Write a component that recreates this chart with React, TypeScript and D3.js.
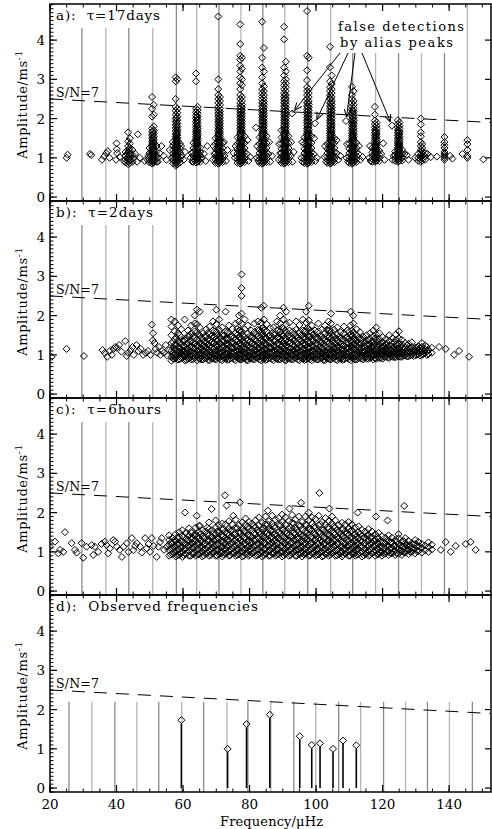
import React from "react";
import * as d3 from "d3";

// ------------------------- data -------------------------
const xTickValues = [20, 40, 60, 80, 100, 120, 140];
const yTickValues = [0, 1, 2, 3, 4];
const panelLabels = ["a):  τ=17days", "b):  τ=2days", "c):  τ=6hours", "d):  Observed frequencies"];

// mode frequencies (vertical reference lines)
const modeFreqsABC = [29.6, 36.8, 43.7, 50.9, 58.0, 64.1, 70.8, 77.4, 84.0, 90.6, 97.5, 104.4, 111.0, 117.9, 124.8, 131.7, 138.6, 145.5];
const modeFreqsD = [25.7, 32.6, 39.5, 46.1, 52.7, 59.6, 66.2, 73.2, 79.5, 86.4, 93.3, 99.9, 106.8, 113.4, 120.3, 126.9, 133.5, 140.1, 147.0];
const modeLineTopD = 2.2;

// S/N = 7 threshold
const snFreq = [20, 152.6];
const snAmp = [2.5, 1.9];

// observed frequencies (panel d)
const obsFreq = [59.5, 73.4, 79.1, 86.1, 95.1, 98.7, 101.2, 105.1, 108.1, 112.1];
const obsAmp = [1.73, 1.0, 1.63, 1.87, 1.32, 1.1, 1.14, 1.0, 1.21, 1.09];

// panel a: stacked detections
const colFreqA = [43.5, 44.0, 50.7, 51.2, 57.8, 58.3, 63.9, 64.4, 70.6, 71.1, 77.2, 77.7, 83.8, 84.3, 90.4, 90.9, 97.3, 97.8, 104.2, 104.7, 110.8, 111.3, 117.7, 118.2, 124.6, 125.1, 131.5, 131.9, 138.6, 145.5];
const colAmpsA = [
  [0.84, 0.9, 0.96, 1.02, 1.08, 1.14, 1.2, 1.3, 1.42, 1.65],
  [0.87, 0.93, 0.99, 1.05, 1.11, 1.18, 1.25, 1.36, 1.5],
  [0.85, 0.9, 0.95, 1.0, 1.05, 1.1, 1.16, 1.22, 1.28, 1.35, 1.42, 1.5, 1.58, 1.66, 1.75, 2.05, 2.25, 2.55],
  [0.88, 0.93, 0.98, 1.03, 1.08, 1.13, 1.19, 1.25, 1.32, 1.39, 1.46, 1.54, 1.62, 1.7, 1.8, 2.1, 2.35],
  [0.8, 0.86, 0.92, 0.98, 1.04, 1.1, 1.16, 1.22, 1.28, 1.34, 1.4, 1.47, 1.54, 1.61, 1.68, 1.76, 1.84, 1.92, 2.0, 2.1, 2.2, 2.3, 2.5, 2.95, 3.05],
  [0.83, 0.89, 0.95, 1.01, 1.07, 1.13, 1.19, 1.25, 1.31, 1.37, 1.44, 1.51, 1.58, 1.65, 1.72, 1.8, 1.88, 1.96, 2.05, 2.15, 2.25, 3.0],
  [0.88, 0.94, 1.0, 1.06, 1.12, 1.18, 1.24, 1.3, 1.36, 1.42, 1.48, 1.54, 1.6, 1.66, 1.72, 1.78, 1.85, 1.92, 2.0, 2.08, 2.16, 2.25, 2.95, 3.15],
  [0.9, 0.96, 1.02, 1.08, 1.14, 1.2, 1.26, 1.32, 1.38, 1.44, 1.5, 1.56, 1.62, 1.68, 1.75, 1.82, 1.9, 1.98, 2.06, 2.14, 2.22, 2.3],
  [0.85, 0.91, 0.97, 1.03, 1.09, 1.15, 1.21, 1.27, 1.33, 1.39, 1.45, 1.51, 1.57, 1.63, 1.7, 1.77, 1.84, 1.91, 1.98, 2.06, 2.14, 2.22, 2.3, 2.4, 2.5, 2.6, 2.75, 3.0, 4.6],
  [0.88, 0.94, 1.0, 1.06, 1.12, 1.18, 1.24, 1.3, 1.36, 1.42, 1.48, 1.54, 1.6, 1.66, 1.73, 1.8, 1.87, 1.94, 2.02, 2.1, 2.18, 2.26, 2.35, 2.45, 2.55],
  [0.85, 0.91, 0.97, 1.03, 1.09, 1.15, 1.21, 1.27, 1.33, 1.39, 1.45, 1.51, 1.57, 1.63, 1.69, 1.75, 1.82, 1.89, 1.96, 2.03, 2.1, 2.17, 2.24, 2.32, 2.4, 2.5, 2.6, 2.75, 2.9, 3.05, 3.2, 3.35, 3.5, 3.6, 3.9, 4.4],
  [0.88, 0.94, 1.0, 1.06, 1.12, 1.18, 1.24, 1.3, 1.36, 1.42, 1.48, 1.54, 1.6, 1.66, 1.72, 1.79, 1.86, 1.93, 2.0, 2.07, 2.14, 2.21, 2.28, 2.36, 2.45, 2.55, 2.85, 3.0, 3.27, 3.55],
  [0.85, 0.91, 0.97, 1.03, 1.09, 1.15, 1.21, 1.27, 1.33, 1.39, 1.45, 1.51, 1.57, 1.63, 1.69, 1.75, 1.82, 1.89, 1.96, 2.03, 2.1, 2.17, 2.24, 2.32, 2.4, 2.48, 2.56, 2.65, 2.75, 2.9, 3.05, 3.3, 3.55, 4.47],
  [0.88, 0.94, 1.0, 1.06, 1.12, 1.18, 1.24, 1.3, 1.36, 1.42, 1.48, 1.54, 1.6, 1.66, 1.72, 1.79, 1.86, 1.93, 2.0, 2.07, 2.14, 2.21, 2.28, 2.36, 2.44, 2.52, 2.6, 2.7, 2.82, 3.2, 3.8],
  [0.85, 0.91, 0.97, 1.03, 1.09, 1.15, 1.21, 1.27, 1.33, 1.39, 1.45, 1.51, 1.57, 1.63, 1.69, 1.75, 1.82, 1.89, 1.96, 2.03, 2.1, 2.17, 2.24, 2.32, 2.4, 2.48, 2.56, 2.65, 2.75, 2.85, 2.95, 3.1, 3.3, 4.02, 4.34],
  [0.88, 0.94, 1.0, 1.06, 1.12, 1.18, 1.24, 1.3, 1.36, 1.42, 1.48, 1.54, 1.6, 1.66, 1.72, 1.79, 1.86, 1.93, 2.0, 2.07, 2.14, 2.21, 2.28, 2.36, 2.44, 2.52, 2.6, 2.7, 2.8, 2.9, 3.0, 3.2, 3.45],
  [0.85, 0.91, 0.97, 1.03, 1.09, 1.15, 1.21, 1.27, 1.33, 1.39, 1.45, 1.51, 1.57, 1.63, 1.69, 1.75, 1.82, 1.89, 1.96, 2.03, 2.1, 2.17, 2.24, 2.32, 2.4, 2.5, 2.6, 2.7, 2.8, 2.98, 3.23, 3.6, 4.74],
  [0.88, 0.94, 1.0, 1.06, 1.12, 1.18, 1.24, 1.3, 1.36, 1.42, 1.48, 1.54, 1.6, 1.66, 1.72, 1.79, 1.86, 1.93, 2.0, 2.07, 2.14, 2.21, 2.28, 2.36, 2.45, 2.55, 2.65, 2.75, 3.55],
  [0.85, 0.91, 0.97, 1.03, 1.09, 1.15, 1.21, 1.27, 1.33, 1.39, 1.45, 1.51, 1.57, 1.63, 1.69, 1.75, 1.82, 1.89, 1.96, 2.03, 2.1, 2.17, 2.24, 2.32, 2.4, 2.5, 2.6, 2.7, 2.8, 2.95, 3.31, 3.83],
  [0.88, 0.94, 1.0, 1.06, 1.12, 1.18, 1.24, 1.3, 1.36, 1.42, 1.48, 1.54, 1.6, 1.66, 1.72, 1.79, 1.86, 1.93, 2.0, 2.07, 2.14, 2.21, 2.28, 2.36, 2.45, 2.55, 2.65, 2.75, 2.88, 3.1],
  [0.85, 0.91, 0.97, 1.03, 1.09, 1.15, 1.21, 1.27, 1.33, 1.39, 1.45, 1.51, 1.57, 1.63, 1.7, 1.77, 1.84, 1.91, 1.98, 2.06, 2.14, 2.22, 2.3, 2.4, 2.5, 2.6, 2.81],
  [0.88, 0.94, 1.0, 1.06, 1.12, 1.18, 1.24, 1.3, 1.36, 1.42, 1.48, 1.54, 1.6, 1.67, 1.74, 1.81, 1.88, 1.95, 2.02, 2.1, 2.18, 2.26, 2.35, 2.45, 2.7],
  [0.9, 0.96, 1.02, 1.08, 1.14, 1.2, 1.26, 1.32, 1.38, 1.44, 1.5, 1.57, 1.64, 1.71, 1.78, 1.86, 1.95, 2.1, 2.3],
  [0.93, 0.99, 1.05, 1.11, 1.17, 1.23, 1.29, 1.35, 1.41, 1.47, 1.54, 1.61, 1.68, 1.75, 1.82, 1.9],
  [0.9, 0.96, 1.02, 1.08, 1.14, 1.2, 1.26, 1.32, 1.38, 1.44, 1.5, 1.57, 1.64, 1.71, 1.78, 1.86, 1.96],
  [0.93, 0.99, 1.05, 1.11, 1.17, 1.23, 1.29, 1.35, 1.41, 1.47, 1.54, 1.61, 1.68, 1.75, 1.82, 1.9],
  [0.9, 0.96, 1.02, 1.08, 1.14, 1.2, 1.3, 1.4, 1.55, 1.65, 1.85, 2.0],
  [0.93, 0.99, 1.05, 1.11, 1.17, 1.25, 1.35],
  [0.95, 1.0, 1.05, 1.1, 1.15, 1.25, 1.32, 1.4, 1.53],
  [1.0, 1.05, 1.2, 1.35, 1.45],
];
// panel a: stack cores and bases
const colFreqA2 = [42.7, 44.8, 49.9, 52.0, 50.95, 57.0, 59.1, 58.05, 63.1, 65.2, 64.15, 69.8, 71.9, 70.85, 76.4, 78.5, 77.45, 83.0, 85.1, 84.05, 89.6, 91.7, 90.65, 96.5, 98.6, 97.55, 103.4, 105.5, 104.45, 110.0, 112.1, 111.05, 116.9, 119.0, 117.95, 123.8, 125.9, 124.85, 130.7, 132.8];
const colAmpsA2 = [
  [0.88, 0.96, 1.05, 1.15],
  [0.9, 0.98, 1.08, 1.2],
  [0.88, 0.95, 1.03, 1.12, 1.25],
  [0.9, 0.98, 1.06, 1.16, 1.3],
  [0.88, 0.93, 0.98, 1.03, 1.08, 1.13, 1.18, 1.23, 1.28, 1.33, 1.38, 1.43, 1.48, 1.53, 1.6, 1.68],
  [0.86, 0.94, 1.02, 1.1, 1.2, 1.32],
  [0.88, 0.96, 1.04, 1.13, 1.24, 1.36],
  [0.83, 0.88, 0.93, 0.98, 1.03, 1.08, 1.13, 1.18, 1.23, 1.28, 1.33, 1.38, 1.43, 1.48, 1.53, 1.58, 1.63, 1.7, 1.78, 1.86, 1.94, 2.02],
  [0.9, 0.97, 1.05, 1.14, 1.25, 1.38],
  [0.9, 0.98, 1.06, 1.15, 1.26],
  [0.91, 0.96, 1.01, 1.06, 1.11, 1.16, 1.21, 1.26, 1.31, 1.36, 1.41, 1.46, 1.51, 1.56, 1.61, 1.67, 1.74, 1.81, 1.88, 1.95, 2.03],
  [0.87, 0.95, 1.03, 1.12, 1.23, 1.36, 1.5],
  [0.89, 0.97, 1.05, 1.14, 1.25, 1.38],
  [0.87, 0.92, 0.97, 1.02, 1.07, 1.12, 1.17, 1.22, 1.27, 1.32, 1.37, 1.42, 1.47, 1.52, 1.57, 1.62, 1.68, 1.75, 1.82, 1.89, 1.96, 2.04, 2.12, 2.2],
  [0.87, 0.95, 1.03, 1.12, 1.23, 1.36, 1.52],
  [0.89, 0.97, 1.05, 1.14, 1.25, 1.38, 1.55],
  [0.87, 0.92, 0.97, 1.02, 1.07, 1.12, 1.17, 1.22, 1.27, 1.32, 1.37, 1.42, 1.47, 1.52, 1.57, 1.62, 1.68, 1.75, 1.82, 1.89, 1.96, 2.04, 2.12, 2.2, 2.3],
  [0.87, 0.95, 1.03, 1.12, 1.23, 1.36, 1.52],
  [0.89, 0.97, 1.05, 1.14, 1.25, 1.38, 1.55],
  [0.87, 0.92, 0.97, 1.02, 1.07, 1.12, 1.17, 1.22, 1.27, 1.32, 1.37, 1.42, 1.47, 1.52, 1.57, 1.62, 1.68, 1.75, 1.82, 1.89, 1.96, 2.04, 2.12, 2.2, 2.3, 2.4],
  [0.87, 0.95, 1.03, 1.12, 1.23, 1.36, 1.52, 1.7],
  [0.89, 0.97, 1.05, 1.14, 1.25, 1.38, 1.55],
  [0.87, 0.92, 0.97, 1.02, 1.07, 1.12, 1.17, 1.22, 1.27, 1.32, 1.37, 1.42, 1.47, 1.52, 1.57, 1.62, 1.68, 1.75, 1.82, 1.89, 1.96, 2.04, 2.12, 2.2, 2.3, 2.4, 2.5, 2.6],
  [0.87, 0.95, 1.03, 1.12, 1.23, 1.36, 1.52],
  [0.89, 0.97, 1.05, 1.14, 1.25, 1.38, 1.55],
  [0.87, 0.92, 0.97, 1.02, 1.07, 1.12, 1.17, 1.22, 1.27, 1.32, 1.37, 1.42, 1.47, 1.52, 1.57, 1.62, 1.68, 1.75, 1.82, 1.89, 1.96, 2.04, 2.12, 2.2, 2.3, 2.4],
  [0.87, 0.95, 1.03, 1.12, 1.23, 1.36],
  [0.89, 0.97, 1.05, 1.14, 1.25, 1.38, 1.5],
  [0.87, 0.92, 0.97, 1.02, 1.07, 1.12, 1.17, 1.22, 1.27, 1.32, 1.37, 1.42, 1.47, 1.52, 1.57, 1.62, 1.68, 1.75, 1.82, 1.89, 1.96, 2.04, 2.12, 2.2, 2.3, 2.4, 2.5],
  [0.87, 0.95, 1.03, 1.12, 1.23, 1.36],
  [0.89, 0.97, 1.05, 1.14, 1.25, 1.38],
  [0.87, 0.92, 0.97, 1.02, 1.07, 1.12, 1.17, 1.22, 1.27, 1.32, 1.37, 1.42, 1.47, 1.52, 1.57, 1.62, 1.68, 1.75, 1.82, 1.89, 1.96, 2.04, 2.12, 2.2],
  [0.9, 0.97, 1.05, 1.14, 1.25],
  [0.92, 1.0, 1.08, 1.18],
  [0.92, 0.97, 1.02, 1.07, 1.12, 1.17, 1.22, 1.27, 1.32, 1.37, 1.42, 1.47, 1.52, 1.58, 1.64, 1.7],
  [0.92, 0.99, 1.07, 1.16],
  [0.93, 1.01, 1.1, 1.2],
  [0.92, 0.97, 1.02, 1.07, 1.12, 1.17, 1.22, 1.27, 1.32, 1.37, 1.42, 1.47, 1.52, 1.58, 1.64, 1.7],
  [0.92, 1.0, 1.1],
  [0.95, 1.03, 1.12],
];
const scatterA: [number, number][] = [
  [25.0, 1.0], [25.3, 1.08], [32.0, 1.1], [32.4, 1.07],
  [35.6, 0.95], [36.3, 1.04], [36.9, 1.12], [37.4, 1.17], [37.9, 1.0],
  [40.0, 1.37], [40.1, 1.22], [40.2, 1.12], [39.9, 0.95], [41.0, 1.02],
  [42.3, 0.92], [42.6, 1.05], [45.2, 1.0], [45.6, 1.1], [46.4, 1.6], [47.0, 1.0], [46.2, 0.9], [48.5, 0.92], [49.3, 0.95],
  [49.6, 1.05], [52.5, 1.0], [53.0, 1.12], [53.5, 1.3], [54.2, 1.05], [55.0, 0.95], [56.0, 1.2], [52.4, 0.9],
  [56.5, 1.0], [59.6, 1.05], [60.2, 0.95], [60.6, 1.15], [59.4, 1.3], [56.9, 1.4],
  [62.3, 1.0], [62.6, 1.12], [65.7, 1.0], [66.3, 1.1], [66.8, 0.92], [67.3, 1.3], [62.8, 0.9],
  [69.0, 0.95], [69.4, 1.1], [72.5, 1.05], [72.9, 0.92], [73.4, 1.2], [69.2, 1.3], [72.3, 1.4],
  [75.6, 1.0], [75.2, 1.12], [79.2, 1.1], [79.7, 0.92], [80.2, 1.02], [75.8, 1.3], [79.4, 1.45], [81.9, 1.77],
  [82.2, 1.0], [82.6, 0.92], [85.7, 1.1], [86.2, 0.9], [86.8, 1.05], [82.3, 1.3], [85.9, 1.4],
  [88.8, 0.95], [89.2, 1.12], [92.4, 1.05], [92.9, 0.9], [93.3, 1.15], [88.9, 1.35], [92.5, 1.4],
  [95.6, 1.0], [95.9, 0.9], [99.3, 1.1], [99.8, 0.92], [100.3, 1.0], [95.8, 1.4], [99.4, 1.5],
  [102.6, 1.02], [103.0, 0.9], [106.2, 1.12], [106.7, 0.95], [107.3, 1.05], [102.7, 1.3], [106.2, 1.45],
  [109.2, 1.0], [109.6, 0.9], [112.8, 1.1], [113.3, 0.95], [114.0, 1.02], [109.3, 1.35], [112.9, 1.3],
  [116.0, 1.0], [116.4, 0.92], [119.6, 1.1], [120.2, 1.37], [120.6, 0.95], [116.2, 1.3],
  [123.0, 0.95], [123.3, 1.05], [126.6, 1.1], [127.3, 1.07], [127.8, 0.95],
  [129.8, 1.0], [133.5, 1.1], [134.5, 1.02], [136.3, 1.03], [140.3, 1.05], [141.0, 0.98], [144.0, 1.1], [150.3, 0.96],
];
// false detections (alias peaks) in panel a
const falseDetFreq = [92.8, 99.7, 109.0, 122.8];
const falseDetAmp = [2.13, 1.88, 1.94, 1.82];

// panel b
const colFreqB = [56.5, 57.5, 58.5, 59.5, 60.5, 61.5, 62.5, 63.5, 64.2, 65.0, 66.0, 67.0, 68.0, 69.0, 70.0, 70.9, 71.8, 72.8, 73.8, 74.8, 75.8, 76.8, 77.6, 78.5, 79.5, 80.5, 81.5, 82.5, 83.5, 84.3, 85.2, 86.2, 87.2, 88.2, 89.2, 90.2, 91.0, 92.0, 93.0, 94.0, 95.0, 96.0, 97.0, 97.8, 98.7, 99.7, 100.7, 101.7, 102.7, 103.7, 104.5, 105.4, 106.4, 107.4, 108.4, 109.4, 110.4, 111.2, 112.2, 113.2, 114.2, 115.2, 116.2, 117.2, 118.1, 119.0, 120.0, 121.0, 122.0, 123.0, 124.0, 124.9, 125.8, 126.8, 127.8, 128.8, 129.8, 130.8, 131.8, 132.8, 133.8, 134.8];
const colAmpsB = [
  [0.85, 0.95, 1.1, 1.3, 1.5, 1.72, 1.9],
  [0.9, 1.0, 1.15, 1.25, 1.4, 1.6, 1.85],
  [0.88, 0.98, 1.08, 1.2, 1.35, 1.55, 1.75],
  [0.92, 1.05, 1.12, 1.28, 1.45, 1.65],
  [0.86, 0.96, 1.1, 1.22, 1.38, 1.9],
  [0.9, 1.02, 1.15, 1.3, 1.48, 1.62],
  [0.88, 1.0, 1.08, 1.2, 1.35, 1.55, 1.75],
  [0.92, 1.04, 1.16, 1.28, 1.42, 1.6, 1.8, 2.0],
  [0.86, 0.98, 1.1, 1.25, 1.4, 1.58, 1.78, 2.15],
  [0.9, 1.02, 1.14, 1.3, 1.5, 1.7, 2.1],
  [0.88, 1.0, 1.12, 1.24, 1.38, 1.55],
  [0.92, 1.05, 1.18, 1.32, 1.48, 1.65],
  [0.86, 0.97, 1.1, 1.22, 1.36, 1.52, 1.72],
  [0.9, 1.02, 1.14, 1.28, 1.44, 1.62, 1.85],
  [0.88, 1.0, 1.1, 1.24, 1.4, 1.58, 1.78, 2.15],
  [0.92, 1.04, 1.16, 1.3, 1.46, 1.64, 1.9],
  [0.86, 0.98, 1.08, 1.2, 1.34, 1.5, 1.7],
  [0.9, 1.02, 1.15, 1.28, 1.42, 1.6, 2.1],
  [0.88, 1.0, 1.12, 1.26, 1.4, 1.56, 1.75],
  [0.92, 1.05, 1.18, 1.32, 1.48, 1.66],
  [0.86, 0.98, 1.1, 1.22, 1.38, 1.55, 1.8],
  [0.9, 1.02, 1.14, 1.28, 1.44, 1.62, 1.85, 2.0],
  [0.88, 1.0, 1.12, 1.26, 1.42, 1.6, 1.8, 2.05, 2.5, 2.7, 3.05],
  [0.92, 1.04, 1.16, 1.3, 1.46, 1.65, 1.9],
  [0.86, 0.98, 1.1, 1.24, 1.38, 1.55, 1.75],
  [0.9, 1.02, 1.15, 1.28, 1.44, 1.62],
  [0.88, 1.0, 1.12, 1.26, 1.4, 1.58, 1.8],
  [0.92, 1.04, 1.16, 1.3, 1.46, 1.64, 1.85],
  [0.86, 0.98, 1.1, 1.24, 1.4, 1.6, 1.82, 2.2],
  [0.9, 1.02, 1.14, 1.28, 1.44, 1.62, 1.9, 2.25],
  [0.88, 1.0, 1.12, 1.26, 1.42, 1.6, 1.78],
  [0.92, 1.05, 1.18, 1.32, 1.5, 1.68],
  [0.86, 0.98, 1.1, 1.22, 1.36, 1.52, 1.7],
  [0.9, 1.02, 1.14, 1.28, 1.44, 1.62, 1.85],
  [0.88, 1.0, 1.12, 1.26, 1.42, 1.6, 1.8, 2.0],
  [0.92, 1.04, 1.16, 1.3, 1.48, 1.66, 1.9, 2.2],
  [0.86, 0.98, 1.1, 1.24, 1.4, 1.58, 1.78, 2.1],
  [0.9, 1.02, 1.15, 1.28, 1.44, 1.62, 1.82],
  [0.88, 1.0, 1.12, 1.26, 1.42, 1.6],
  [0.92, 1.04, 1.16, 1.3, 1.46, 1.64, 1.85],
  [0.86, 0.98, 1.1, 1.24, 1.4, 1.58, 1.76],
  [0.9, 1.02, 1.14, 1.28, 1.44, 1.62, 1.9],
  [0.88, 1.0, 1.12, 1.26, 1.42, 1.6, 1.82, 2.1],
  [0.92, 1.04, 1.16, 1.3, 1.46, 1.66, 1.88, 2.25],
  [0.86, 0.98, 1.1, 1.24, 1.4, 1.58, 1.75],
  [0.9, 1.02, 1.15, 1.28, 1.44, 1.62],
  [0.88, 1.0, 1.12, 1.26, 1.42, 1.6, 1.8],
  [0.92, 1.04, 1.16, 1.3, 1.46, 1.64],
  [0.86, 0.98, 1.1, 1.24, 1.38, 1.55, 1.75],
  [0.9, 1.02, 1.14, 1.28, 1.44, 1.62, 1.85],
  [0.88, 1.0, 1.12, 1.26, 1.42, 1.6, 1.8, 2.05],
  [0.92, 1.04, 1.16, 1.3, 1.46, 1.64],
  [0.86, 0.98, 1.1, 1.22, 1.36, 1.52, 1.7],
  [0.9, 1.02, 1.14, 1.28, 1.42, 1.58],
  [0.88, 1.0, 1.12, 1.24, 1.38, 1.55, 1.72],
  [0.92, 1.04, 1.16, 1.3, 1.45, 1.62],
  [0.86, 0.98, 1.1, 1.22, 1.36, 1.52, 1.75, 2.1],
  [0.9, 1.02, 1.14, 1.26, 1.4, 1.56, 1.8, 2.0],
  [0.88, 1.0, 1.1, 1.22, 1.36, 1.5, 1.65],
  [0.92, 1.04, 1.15, 1.28, 1.42, 1.58],
  [0.88, 0.98, 1.08, 1.2, 1.32, 1.46],
  [0.9, 1.02, 1.12, 1.24, 1.36, 1.5],
  [0.92, 1.04, 1.14, 1.26, 1.4, 1.55],
  [0.88, 1.0, 1.1, 1.22, 1.34, 1.48, 1.62],
  [0.9, 1.02, 1.12, 1.24, 1.38, 1.52, 1.7],
  [0.92, 1.04, 1.14, 1.26, 1.4, 1.55],
  [0.9, 1.0, 1.1, 1.2, 1.32, 1.45],
  [0.95, 1.05, 1.15, 1.27, 1.4],
  [0.92, 1.02, 1.12, 1.24, 1.36, 1.5],
  [0.95, 1.05, 1.16, 1.28, 1.42],
  [0.94, 1.04, 1.14, 1.26, 1.38, 1.52],
  [0.96, 1.06, 1.16, 1.28, 1.42, 1.6],
  [0.95, 1.05, 1.15, 1.26, 1.38],
  [0.98, 1.08, 1.18, 1.3],
  [0.96, 1.06, 1.16, 1.28],
  [1.0, 1.1, 1.2, 1.32],
  [0.98, 1.08, 1.18],
  [1.02, 1.12, 1.22],
  [1.0, 1.1, 1.2, 1.3],
  [1.04, 1.14, 1.24],
  [1.02, 1.12],
  [1.05, 1.18],
];
const colFreqB2 = [57.0, 58.0, 59.0, 60.0, 61.0, 62.0, 63.0, 64.6, 65.5, 66.5, 67.5, 68.5, 69.5, 70.4, 71.3, 72.3, 73.3, 74.3, 75.3, 76.3, 77.2, 78.0, 79.0, 80.0, 81.0, 82.0, 83.0, 83.9, 84.8, 85.7, 86.7, 87.7, 88.7, 89.7, 90.6, 91.5, 92.5, 93.5, 94.5, 95.5, 96.5, 97.4, 98.2, 99.2, 100.2, 101.2, 102.2, 103.2, 104.1, 105.0, 105.9, 106.9, 107.9, 108.9, 109.9, 110.8, 111.7, 112.7, 113.7, 114.7, 115.7, 116.7, 117.7, 118.6, 119.5, 120.5, 121.5, 122.5, 123.5, 124.5, 125.3, 126.3, 127.3, 128.3, 129.3, 130.3, 131.3, 132.3, 133.3];
const colAmpsB2 = [
  [0.9, 0.99, 1.07, 1.18, 1.33],
  [0.94, 1.03, 1.14, 1.26, 1.44],
  [0.89, 0.97, 1.06, 1.17, 1.3, 1.5],
  [0.93, 1.01, 1.11, 1.23, 1.37],
  [0.87, 0.95, 1.04, 1.15, 1.28, 1.42],
  [0.92, 1.0, 1.09, 1.2, 1.33, 1.48],
  [0.89, 0.97, 1.07, 1.18, 1.31, 1.46],
  [0.93, 1.01, 1.1, 1.22, 1.36, 1.52],
  [0.88, 0.96, 1.05, 1.16, 1.29, 1.44],
  [0.92, 1.0, 1.09, 1.2, 1.33, 1.47],
  [0.87, 0.95, 1.04, 1.14, 1.26, 1.4, 1.56],
  [0.91, 0.99, 1.08, 1.19, 1.32, 1.47],
  [0.89, 0.97, 1.06, 1.17, 1.3, 1.45, 1.6],
  [0.93, 1.01, 1.11, 1.22, 1.35, 1.5],
  [0.88, 0.96, 1.05, 1.16, 1.29, 1.43],
  [0.92, 1.0, 1.1, 1.21, 1.34, 1.49],
  [0.87, 0.95, 1.04, 1.15, 1.28, 1.42, 1.58],
  [0.91, 0.99, 1.08, 1.19, 1.31, 1.46],
  [0.89, 0.97, 1.06, 1.17, 1.3, 1.44],
  [0.93, 1.01, 1.1, 1.21, 1.34, 1.5, 1.66],
  [0.88, 0.96, 1.05, 1.16, 1.29, 1.44, 1.62],
  [0.92, 1.0, 1.09, 1.2, 1.33, 1.48],
  [0.87, 0.95, 1.04, 1.15, 1.27, 1.41],
  [0.91, 0.99, 1.08, 1.19, 1.32, 1.47],
  [0.89, 0.97, 1.06, 1.17, 1.3, 1.45],
  [0.93, 1.01, 1.11, 1.22, 1.35, 1.51],
  [0.88, 0.96, 1.05, 1.16, 1.29, 1.44, 1.63],
  [0.92, 1.0, 1.1, 1.21, 1.34, 1.5, 1.68],
  [0.87, 0.95, 1.04, 1.15, 1.28, 1.43],
  [0.91, 0.99, 1.08, 1.19, 1.32, 1.48],
  [0.89, 0.97, 1.06, 1.17, 1.3, 1.46],
  [0.93, 1.01, 1.1, 1.21, 1.35, 1.52],
  [0.88, 0.96, 1.05, 1.16, 1.29, 1.45, 1.64],
  [0.92, 1.0, 1.09, 1.2, 1.34, 1.5, 1.7],
  [0.87, 0.95, 1.04, 1.15, 1.28, 1.44, 1.62],
  [0.91, 0.99, 1.08, 1.19, 1.32, 1.48],
  [0.89, 0.97, 1.06, 1.17, 1.31, 1.46],
  [0.93, 1.01, 1.11, 1.22, 1.36, 1.52],
  [0.88, 0.96, 1.05, 1.16, 1.29, 1.45],
  [0.92, 1.0, 1.09, 1.2, 1.34, 1.5],
  [0.87, 0.95, 1.04, 1.15, 1.28, 1.44, 1.6],
  [0.91, 0.99, 1.08, 1.19, 1.33, 1.49, 1.68],
  [0.89, 0.97, 1.06, 1.17, 1.3, 1.46, 1.62],
  [0.93, 1.01, 1.1, 1.21, 1.35, 1.51],
  [0.88, 0.96, 1.05, 1.16, 1.29, 1.44],
  [0.92, 1.0, 1.09, 1.2, 1.33, 1.48],
  [0.87, 0.95, 1.04, 1.15, 1.28, 1.43],
  [0.91, 0.99, 1.08, 1.19, 1.32, 1.47, 1.64],
  [0.89, 0.97, 1.06, 1.17, 1.3, 1.46, 1.63],
  [0.93, 1.01, 1.1, 1.21, 1.34, 1.49],
  [0.88, 0.96, 1.05, 1.16, 1.28, 1.42],
  [0.92, 1.0, 1.09, 1.19, 1.31, 1.45],
  [0.87, 0.95, 1.04, 1.14, 1.26, 1.4],
  [0.91, 0.99, 1.08, 1.18, 1.3, 1.44],
  [0.89, 0.97, 1.06, 1.16, 1.28, 1.42, 1.58],
  [0.93, 1.01, 1.1, 1.2, 1.32, 1.47, 1.62],
  [0.88, 0.96, 1.05, 1.15, 1.27, 1.41],
  [0.92, 1.0, 1.09, 1.19, 1.3, 1.43],
  [0.9, 0.98, 1.07, 1.17, 1.28, 1.4],
  [0.93, 1.01, 1.1, 1.2, 1.31],
  [0.9, 0.98, 1.06, 1.15, 1.26, 1.38],
  [0.94, 1.02, 1.1, 1.2, 1.32],
  [0.91, 0.99, 1.07, 1.17, 1.28, 1.42],
  [0.94, 1.02, 1.11, 1.21, 1.33],
  [0.92, 1.0, 1.08, 1.18, 1.29],
  [0.95, 1.03, 1.12, 1.22],
  [0.93, 1.01, 1.09, 1.19, 1.3],
  [0.96, 1.04, 1.13, 1.23],
  [0.94, 1.02, 1.1, 1.2, 1.32],
  [0.97, 1.05, 1.14, 1.25],
  [0.95, 1.03, 1.12, 1.22],
  [0.98, 1.06, 1.15],
  [0.96, 1.04, 1.13, 1.24],
  [0.99, 1.08, 1.17],
  [0.97, 1.06, 1.15],
  [1.0, 1.09, 1.19],
  [0.98, 1.07, 1.16],
  [1.02, 1.11],
  [1.0, 1.09, 1.2],
];
const scatterB: [number, number][] = [
  [20.5, 0.95], [25.0, 1.15], [30.2, 0.97], [35.8, 1.12], [36.5, 1.05], [37.2, 0.95], [38.0, 1.1], [38.6, 1.0],
  [39.1, 1.15], [39.6, 1.2], [40.1, 1.18], [40.8, 1.25], [41.5, 1.08], [42.6, 1.35], [43.1, 0.97], [43.5, 1.05],
  [44.2, 1.12], [44.8, 1.2], [45.2, 1.0], [46.0, 1.25], [46.6, 1.1], [47.3, 1.15], [48.0, 1.0], [48.8, 1.05], [49.5, 1.1],
  [50.2, 1.0], [50.6, 1.77], [51.0, 1.55], [50.9, 1.37], [51.4, 1.3], [51.8, 1.15], [52.2, 1.05], [52.8, 1.2],
  [53.2, 1.0], [53.7, 1.1], [54.3, 1.05], [54.8, 1.25], [55.3, 0.98], [55.8, 1.12],
  [137.0, 1.2], [139.0, 1.15], [141.5, 1.0], [146.0, 0.95], [143.0, 1.1],
];

// panel c
const colFreqC = [55.8, 56.8, 57.8, 58.8, 59.8, 60.8, 61.8, 62.8, 63.8, 64.8, 65.8, 66.8, 67.8, 68.8, 69.8, 70.8, 71.8, 72.8, 73.8, 74.8, 75.8, 76.8, 77.8, 78.8, 79.8, 80.8, 81.8, 82.8, 83.8, 84.8, 85.8, 86.8, 87.8, 88.8, 89.8, 90.8, 91.8, 92.8, 93.8, 94.8, 95.8, 96.8, 97.8, 98.8, 99.8, 100.8, 101.8, 102.8, 103.8, 104.8, 105.8, 106.8, 107.8, 108.8, 109.8, 110.8, 111.8, 112.8, 113.8, 114.8, 115.8, 116.8, 117.8, 118.8, 119.8, 120.8, 121.8, 122.8, 123.8, 124.8, 125.8, 126.8, 127.8, 128.8, 129.8, 130.8, 131.8, 132.8, 133.8, 134.8];
const colAmpsC = [
  [0.9, 1.05, 1.18, 1.3, 1.42],
  [0.95, 1.1, 1.22, 1.35],
  [0.88, 1.0, 1.15, 1.28, 1.45],
  [0.92, 1.06, 1.2, 1.38, 1.5],
  [0.87, 1.0, 1.12, 1.25, 1.4, 1.55],
  [0.94, 1.08, 1.2, 1.32, 1.48],
  [0.9, 1.02, 1.15, 1.28, 1.42, 1.6],
  [0.96, 1.1, 1.22, 1.35, 1.5],
  [0.9, 1.03, 1.16, 1.3, 1.45, 1.62],
  [0.94, 1.07, 1.2, 1.34, 1.5, 1.66],
  [0.88, 1.0, 1.12, 1.25, 1.38, 1.55],
  [0.95, 1.08, 1.22, 1.36, 1.52],
  [0.9, 1.02, 1.15, 1.28, 1.42, 1.58, 1.75],
  [0.96, 1.1, 1.24, 1.38, 1.55],
  [0.9, 1.03, 1.16, 1.3, 1.45, 1.62, 1.8],
  [0.94, 1.07, 1.2, 1.34, 1.5, 1.68],
  [0.88, 1.0, 1.12, 1.26, 1.4, 1.56, 1.72],
  [0.95, 1.08, 1.22, 1.36, 1.52, 1.7],
  [0.9, 1.02, 1.15, 1.28, 1.42, 1.58, 1.78],
  [0.96, 1.1, 1.24, 1.38, 1.55, 1.7],
  [0.9, 1.03, 1.16, 1.3, 1.45, 1.62, 1.82],
  [0.94, 1.07, 1.2, 1.34, 1.5, 1.68],
  [0.88, 1.0, 1.12, 1.26, 1.4, 1.56, 1.75],
  [0.95, 1.08, 1.22, 1.36, 1.52, 1.7, 1.85],
  [0.9, 1.02, 1.15, 1.28, 1.42, 1.58, 1.76],
  [0.96, 1.1, 1.24, 1.38, 1.55, 1.72],
  [0.9, 1.03, 1.16, 1.3, 1.45, 1.62, 1.8],
  [0.94, 1.07, 1.2, 1.34, 1.5, 1.68, 1.88],
  [0.88, 1.0, 1.12, 1.26, 1.4, 1.56, 1.74],
  [0.95, 1.08, 1.22, 1.36, 1.52, 1.7, 1.9],
  [0.9, 1.02, 1.15, 1.28, 1.42, 1.58, 1.78],
  [0.96, 1.1, 1.24, 1.38, 1.55, 1.72, 1.92],
  [0.9, 1.03, 1.16, 1.3, 1.45, 1.62, 1.82],
  [0.94, 1.07, 1.2, 1.34, 1.5, 1.68, 1.86],
  [0.88, 1.0, 1.12, 1.26, 1.4, 1.56, 1.76, 1.95],
  [0.95, 1.08, 1.22, 1.36, 1.52, 1.7, 1.88],
  [0.9, 1.02, 1.15, 1.28, 1.42, 1.58, 1.78],
  [0.96, 1.1, 1.24, 1.38, 1.55, 1.74, 1.94],
  [0.9, 1.03, 1.16, 1.3, 1.45, 1.62, 1.82],
  [0.94, 1.07, 1.2, 1.34, 1.5, 1.68, 1.9],
  [0.88, 1.0, 1.12, 1.26, 1.4, 1.56, 1.76],
  [0.95, 1.08, 1.22, 1.36, 1.52, 1.7, 1.9],
  [0.9, 1.02, 1.15, 1.28, 1.42, 1.58, 1.8, 2.0],
  [0.96, 1.1, 1.24, 1.38, 1.55, 1.72, 1.88],
  [0.9, 1.03, 1.16, 1.3, 1.45, 1.62, 1.84],
  [0.94, 1.07, 1.2, 1.34, 1.5, 1.68, 1.92],
  [0.88, 1.0, 1.12, 1.26, 1.4, 1.56, 1.76],
  [0.95, 1.08, 1.22, 1.36, 1.52, 1.7, 1.86],
  [0.9, 1.02, 1.15, 1.28, 1.42, 1.58, 1.78],
  [0.96, 1.1, 1.24, 1.38, 1.55, 1.72, 1.9],
  [0.9, 1.03, 1.16, 1.3, 1.45, 1.62, 1.8],
  [0.94, 1.07, 1.2, 1.34, 1.5, 1.68],
  [0.88, 1.0, 1.12, 1.26, 1.4, 1.56, 1.74],
  [0.95, 1.08, 1.22, 1.36, 1.52, 1.7],
  [0.9, 1.02, 1.15, 1.28, 1.42, 1.58, 1.76],
  [0.96, 1.1, 1.24, 1.38, 1.55, 1.7],
  [0.9, 1.03, 1.16, 1.3, 1.45, 1.62],
  [0.94, 1.07, 1.2, 1.34, 1.5, 1.65],
  [0.88, 1.0, 1.12, 1.26, 1.4, 1.56],
  [0.95, 1.08, 1.22, 1.36, 1.52],
  [0.9, 1.02, 1.15, 1.28, 1.42, 1.58],
  [0.96, 1.1, 1.24, 1.38, 1.52],
  [0.9, 1.03, 1.16, 1.3, 1.45],
  [0.94, 1.07, 1.2, 1.34, 1.48],
  [0.9, 1.0, 1.12, 1.26, 1.4],
  [0.95, 1.08, 1.22, 1.36],
  [0.92, 1.02, 1.15, 1.28, 1.42],
  [0.96, 1.1, 1.24, 1.36],
  [0.92, 1.03, 1.16, 1.3],
  [0.95, 1.07, 1.2, 1.34, 1.45],
  [0.92, 1.02, 1.14, 1.26],
  [0.98, 1.1, 1.22, 1.35],
  [0.94, 1.05, 1.16, 1.28],
  [1.0, 1.1, 1.22],
  [0.96, 1.08, 1.2, 1.3],
  [1.02, 1.14, 1.25],
  [0.98, 1.1, 1.2],
  [1.04, 1.16],
  [1.0, 1.12, 1.24],
  [1.06, 1.18],
];
const colFreqC2 = [56.3, 57.4, 58.2, 59.3, 60.2, 61.4, 62.3, 63.2, 64.4, 65.3, 66.2, 67.3, 68.4, 69.2, 70.3, 71.4, 72.2, 73.3, 74.2, 75.4, 76.3, 77.2, 78.3, 79.4, 80.2, 81.3, 82.4, 83.2, 84.3, 85.4, 86.2, 87.3, 88.2, 89.4, 90.3, 91.2, 92.4, 93.3, 94.2, 95.3, 96.4, 97.2, 98.3, 99.4, 100.2, 101.3, 102.2, 103.4, 104.3, 105.2, 106.3, 107.4, 108.2, 109.3, 110.2, 111.4, 112.3, 113.2, 114.4, 115.3, 116.2, 117.3, 118.4, 119.2, 120.3, 121.2, 122.4, 123.3, 124.2, 125.3, 126.4, 127.2, 128.3, 129.2, 130.3];
const colAmpsC2 = [
  [0.93, 1.08, 1.24],
  [0.98, 1.13, 1.3],
  [0.91, 1.04, 1.2, 1.36],
  [0.96, 1.1, 1.27],
  [0.92, 1.06, 1.22, 1.38],
  [0.99, 1.14, 1.3],
  [0.9, 1.05, 1.19, 1.35, 1.5],
  [0.95, 1.11, 1.26, 1.42],
  [0.93, 1.07, 1.23, 1.39],
  [0.98, 1.13, 1.28, 1.45],
  [0.91, 1.05, 1.2, 1.36],
  [0.97, 1.12, 1.27, 1.44, 1.62],
  [0.92, 1.07, 1.22, 1.38],
  [0.99, 1.14, 1.3, 1.47],
  [0.9, 1.05, 1.19, 1.35, 1.52],
  [0.96, 1.11, 1.26, 1.42],
  [0.93, 1.08, 1.24, 1.4, 1.58],
  [0.98, 1.13, 1.29, 1.46],
  [0.91, 1.06, 1.21, 1.37, 1.54],
  [0.97, 1.12, 1.27, 1.44],
  [0.92, 1.07, 1.23, 1.39, 1.6],
  [0.99, 1.14, 1.3, 1.48],
  [0.9, 1.05, 1.2, 1.36, 1.53],
  [0.95, 1.1, 1.26, 1.43, 1.64],
  [0.93, 1.08, 1.24, 1.4],
  [0.98, 1.13, 1.29, 1.47, 1.66],
  [0.91, 1.06, 1.21, 1.37, 1.55],
  [0.97, 1.12, 1.28, 1.45],
  [0.92, 1.07, 1.23, 1.4, 1.6],
  [0.99, 1.14, 1.3, 1.48, 1.7],
  [0.9, 1.05, 1.2, 1.36, 1.54],
  [0.96, 1.11, 1.27, 1.44, 1.65],
  [0.93, 1.08, 1.24, 1.41],
  [0.98, 1.13, 1.29, 1.47, 1.68],
  [0.91, 1.06, 1.22, 1.38, 1.57],
  [0.97, 1.12, 1.28, 1.46],
  [0.92, 1.07, 1.23, 1.4, 1.62],
  [0.99, 1.14, 1.3, 1.48, 1.72],
  [0.9, 1.05, 1.2, 1.36, 1.55],
  [0.95, 1.1, 1.26, 1.44, 1.66],
  [0.93, 1.08, 1.24, 1.41],
  [0.98, 1.13, 1.29, 1.47, 1.68],
  [0.91, 1.06, 1.22, 1.38, 1.58],
  [0.97, 1.12, 1.28, 1.46, 1.65],
  [0.92, 1.07, 1.23, 1.4],
  [0.99, 1.14, 1.3, 1.48, 1.7],
  [0.9, 1.05, 1.2, 1.36, 1.55],
  [0.96, 1.11, 1.27, 1.44, 1.62],
  [0.93, 1.08, 1.24, 1.41],
  [0.98, 1.13, 1.29, 1.47, 1.64],
  [0.91, 1.06, 1.22, 1.38, 1.56],
  [0.97, 1.12, 1.28, 1.45],
  [0.92, 1.07, 1.23, 1.4, 1.58],
  [0.99, 1.14, 1.3, 1.47],
  [0.9, 1.05, 1.2, 1.36, 1.52],
  [0.95, 1.1, 1.26, 1.43],
  [0.93, 1.08, 1.24, 1.4],
  [0.98, 1.13, 1.28, 1.45],
  [0.91, 1.06, 1.21, 1.36],
  [0.97, 1.12, 1.27, 1.42],
  [0.92, 1.07, 1.22, 1.37],
  [0.99, 1.13, 1.28],
  [0.94, 1.08, 1.23, 1.38],
  [0.98, 1.12, 1.26],
  [0.95, 1.09, 1.24],
  [1.0, 1.14, 1.28],
  [0.96, 1.1, 1.25],
  [1.01, 1.15],
  [0.97, 1.11, 1.26],
  [1.02, 1.16],
  [0.99, 1.13, 1.27],
  [1.03, 1.17],
  [1.0, 1.14],
  [1.05, 1.19],
  [1.02, 1.15],
];
const scatterC: [number, number][] = [
  [20.0, 1.13], [21.5, 1.26], [22.5, 0.96], [23.0, 1.05], [24.5, 1.5], [24.0, 1.0], [26.5, 1.22], [27.5, 1.05],
  [28.0, 0.98], [29.5, 1.22], [30.0, 0.85], [31.0, 1.13], [32.5, 1.17], [33.0, 0.92], [33.5, 1.13], [34.5, 1.0],
  [35.5, 1.2], [36.5, 1.26], [37.0, 1.17], [37.5, 0.96], [38.0, 1.09], [39.0, 1.3], [39.6, 1.26], [40.1, 1.13],
  [41.0, 1.05], [41.6, 0.87], [42.1, 1.13], [43.1, 1.22], [43.6, 1.0], [44.6, 1.35], [45.1, 1.04], [45.6, 1.15],
  [46.1, 1.22], [47.1, 1.13], [47.6, 0.98], [48.6, 1.35], [49.1, 1.09], [49.6, 1.2], [50.1, 1.0], [50.6, 1.35],
  [51.2, 1.15], [52.1, 0.87], [52.6, 1.13], [53.1, 1.25], [53.6, 1.35], [54.3, 1.05], [55.1, 1.13],
  [60.6, 2.0], [64.1, 1.92], [65.1, 1.66], [68.6, 2.09], [72.6, 2.44], [73.1, 2.18], [77.1, 2.26], [75.1, 1.92],
  [85.5, 2.05], [92.0, 2.1], [101.0, 2.5], [95.5, 2.25], [104.0, 2.1], [112.5, 2.0], [118.0, 1.9], [126.5, 2.17], [121.5, 1.8],
  [137.5, 1.05], [139.0, 1.25], [140.5, 1.0], [142.0, 1.15], [145.0, 1.2], [146.5, 1.25], [148.0, 1.05],
];

// ------------------------- layout -------------------------
const W = 492;
const H = 829;
const LEFT = 50;
const RIGHT = 491;
const PANEL_TOP = [4, 201, 398, 595];
const PANEL_H = 197;
const X_DOMAIN: [number, number] = [20, 152.6];
const Y_DOMAIN: [number, number] = [-0.1, 4.92];
const FONT = "'DejaVu Serif', serif";
const LINE_DARK = "#8a8a8a";
const LINE_LIGHT = "#b4b4b4";
const LABEL_WIDTHS = [104, 97, 105, 202];

function pairs(freqs: number[], amps: number[][]): [number, number][] {
  const out: [number, number][] = [];
  freqs.forEach((f, i) => amps[i].forEach((a) => out.push([f, a])));
  return out;
}

export default function App() {
  const x = d3.scaleLinear().domain(X_DOMAIN).range([LEFT, RIGHT]);
  const ys = PANEL_TOP.map((t) => d3.scaleLinear().domain(Y_DOMAIN).range([t + PANEL_H, t]));

  const falsePts: [number, number][] = falseDetFreq.map((f, i) => [f, falseDetAmp[i]]);
  const panelPoints: [number, number][][] = [
    pairs(colFreqA, colAmpsA).concat(pairs(colFreqA2, colAmpsA2), scatterA, falsePts),
    pairs(colFreqB, colAmpsB).concat(pairs(colFreqB2, colAmpsB2), scatterB),
    pairs(colFreqC, colAmpsC).concat(pairs(colFreqC2, colAmpsC2), scatterC),
    obsFreq.map((f, i) => [f, obsAmp[i]] as [number, number]),
  ];

  const r = 3.5;
  const diamondPath = (pts: [number, number][], y: d3.ScaleLinear<number, number>) =>
    pts
      .map(([f, a]) => {
        const cx = x(f);
        const cy = y(a);
        return `M${cx},${cy - r}L${cx + r},${cy}L${cx},${cy + r}L${cx - r},${cy}Z`;
      })
      .join("");

  const xMinor = x.ticks(30);

  // annotation arrows (start anchors under the text, tips at the false-detection points)
  const arrowStarts = [
    [340, 53],
    [348, 53],
    [355, 53],
    [362, 53],
  ];

  return (
    <svg width={W} height={H} style={{ position: "absolute", left: 0, top: 0, background: "#fff" }} fontFamily={FONT}>
      <defs>
        {PANEL_TOP.map((t, i) => (
          <clipPath id={`clip${i}`} key={i}>
            <rect x={LEFT} y={t} width={RIGHT - LEFT} height={PANEL_H} />
          </clipPath>
        ))}
        <marker id="arrow" viewBox="0 0 8 8" refX="7.5" refY="4" markerWidth="8" markerHeight="8" markerUnits="userSpaceOnUse" orient="auto">
          <path d="M0,0.8 L7.5,4 L0,7.2" fill="none" stroke="#000" strokeWidth={1} />
        </marker>
      </defs>
      <rect x={0} y={0} width={W} height={H} fill="#fff" />
      {ys.map((y, p) => {
        const top = PANEL_TOP[p];
        const bottom = top + PANEL_H;
        const modes = p < 3 ? modeFreqsABC : modeFreqsD;
        const yMinor = y.ticks(50);
        const snPath = d3
          .line<number>()
          .x((f) => x(f))
          .y((_, i) => y(snAmp[i]))(snFreq);
        return (
          <g key={p}>
            <g clipPath={`url(#clip${p})`}>
              {modes.map((f, i) => (
                <line
                  key={i}
                  x1={x(f)}
                  x2={x(f)}
                  y1={bottom}
                  y2={p < 3 ? top : y(modeLineTopD)}
                  stroke={i % 2 === 0 ? LINE_DARK : LINE_LIGHT}
                  strokeWidth={1.3}
                />
              ))}
              {/* white label boxes */}
              <rect x={LEFT + 1} y={top + 1} width={115} height={23} fill="#fff" />
              {p === 0 && <rect x={335} y={top + 1} width={131} height={48} fill="#fff" />}
              <path d={snPath ?? ""} fill="none" stroke="#000" strokeWidth={1} strokeDasharray="13,9" />
              {p === 3 &&
                obsFreq.map((f, i) => (
                  <line key={i} x1={x(f)} x2={x(f)} y1={y(0)} y2={y(obsAmp[i]) + r} stroke="#000" strokeWidth={1.6} />
                ))}
              <path d={diamondPath(panelPoints[p], y)} fill="none" stroke="#000" strokeWidth={1} />
            </g>
            {/* frame */}
            <rect x={LEFT} y={top} width={RIGHT - LEFT} height={PANEL_H} fill="none" stroke="#000" strokeWidth={1.5} />
            {/* left minor ticks */}
            {yMinor.map((v, i) => (
              <line key={`ym${i}`} x1={LEFT} x2={LEFT + 3.5} y1={y(v)} y2={y(v)} stroke="#000" strokeWidth={1} />
            ))}
            {yTickValues.map((v) => (
              <g key={`yt${v}`}>
                <line x1={LEFT} x2={LEFT + 7} y1={y(v)} y2={y(v)} stroke="#000" strokeWidth={1.2} />
                <line x1={RIGHT - 6} x2={RIGHT} y1={y(v)} y2={y(v)} stroke="#000" strokeWidth={1.2} />
                <text x={45} y={y(v) + 5} textAnchor="end" fontSize={13.5}>
                  {v}
                </text>
              </g>
            ))}
            {/* x ticks top and bottom */}
            {xMinor.map((v, i) => (
              <g key={`xm${i}`}>
                <line x1={x(v)} x2={x(v)} y1={bottom} y2={bottom - 3.5} stroke="#000" strokeWidth={1} />
                <line x1={x(v)} x2={x(v)} y1={top} y2={top + 3.5} stroke="#000" strokeWidth={1} />
              </g>
            ))}
            {xTickValues.map((v) => (
              <g key={`xt${v}`}>
                <line x1={x(v)} x2={x(v)} y1={bottom} y2={bottom - 7} stroke="#000" strokeWidth={1.2} />
                <line x1={x(v)} x2={x(v)} y1={top} y2={top + 7} stroke="#000" strokeWidth={1.2} />
              </g>
            ))}
            {/* labels */}
            <text
              x={56}
              y={top + 16}
              fontSize={13.5}
              textLength={LABEL_WIDTHS[p]}
              lengthAdjust="spacing"
              style={{ whiteSpace: "pre" }}
            >
              {panelLabels[p]}
            </text>
            <text x={56} y={y(snAmp[0]) - 2} fontSize={12.5} textLength={43} lengthAdjust="spacing">
              S/N=7
            </text>
            <text transform={`translate(27,${top + PANEL_H / 2 + 2}) rotate(-90)`} textAnchor="middle" fontSize={13} letterSpacing={0.6}>
              Amplitude/ms
              <tspan dy={-5} fontSize={9}>
                -1
              </tspan>
            </text>
          </g>
        );
      })}
      {/* annotation in panel a */}
      <text x={338} y={31} fontSize={13} textLength={126} lengthAdjust="spacing">
        false detections
      </text>
      <text x={340} y={47} fontSize={13} textLength={113} lengthAdjust="spacing">
        by alias peaks
      </text>
      {falseDetFreq.map((f, i) => {
        const [sx, sy] = arrowStarts[i];
        const px = x(f);
        const py = ys[0](falseDetAmp[i]);
        const dx = px - sx;
        const dy = py - sy;
        const len = Math.hypot(dx, dy);
        const tx = px - (dx / len) * 4;
        const ty = py - (dy / len) * 4;
        return <line key={i} x1={sx} y1={sy} x2={tx} y2={ty} stroke="#000" strokeWidth={1} markerEnd="url(#arrow)" />;
      })}
      {/* x axis labels */}
      {xTickValues.map((v) => (
        <text key={v} x={x(v)} y={809} textAnchor="middle" fontSize={13.5}>
          {v}
        </text>
      ))}
      <text x={220} y={826} fontSize={13} textLength={103} lengthAdjust="spacing">
        Frequency/μHz
      </text>
    </svg>
  );
}
